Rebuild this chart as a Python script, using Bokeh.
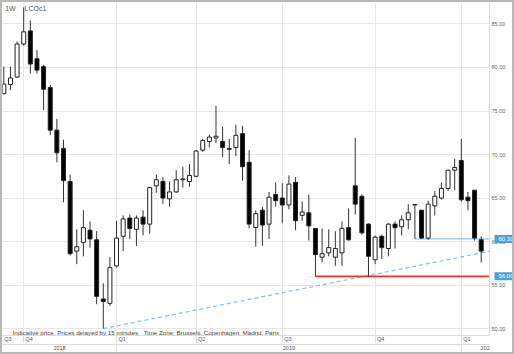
from bokeh.plotting import figure
from bokeh.models import (Range1d, LinearAxis, FixedTicker, Label, Grid, Span,
                          ColumnDataSource, InlineStyleSheet)
from bokeh.core.properties import value
from bokeh.embed import file_html
from bokeh.resources import INLINE

# Weekly OHLC, LCOc1 (Brent), mid-Sep 2018 .. end Jan 2020
opens = [77.0, 78.05, 78.9, 82.7, 84.2, 81.0, 80.1, 77.7, 72.8, 70.7,
         66.9, 58.9, 59.9, 61.3, 60.2, 53.4, 52.9, 57.2, 60.6, 62.7,
         61.4, 62.8, 62.0, 66.4, 66.9, 64.9, 65.7, 67.1, 66.9, 67.5,
         70.5, 71.5, 71.9, 71.5, 70.7, 70.8, 72.4, 69.1, 61.6, 63.6,
         62.0, 65.4, 65.0, 64.2, 66.8, 63.0, 63.3, 61.5, 58.2, 58.7,
         58.2, 58.7, 61.6, 66.4, 65.2, 62.0, 57.9, 60.6, 59.2, 62.0,
         61.7, 62.5, 64.2, 63.6, 60.4, 64.1, 65.0, 66.1, 68.2, 69.3,
         65.1, 65.9, 60.2]
highs = [80.1, 80.1, 83.0, 86.9, 85.4, 82.0, 80.3, 78.0, 74.1, 71.7,
         67.7, 61.4, 63.6, 62.3, 61.2, 55.2, 58.2, 62.4, 63.0, 63.1,
         63.0, 63.6, 66.3, 67.7, 67.4, 66.9, 68.2, 68.6, 68.9, 70.5,
         71.8, 72.3, 75.6, 73.2, 71.8, 73.4, 73.3, 70.5, 63.6, 64.0,
         65.7, 66.8, 66.7, 67.6, 67.4, 64.6, 65.4, 61.5, 61.5, 61.4,
         61.2, 62.3, 63.8, 71.9, 65.4, 62.1, 60.7, 60.8, 62.1, 62.3,
         63.0, 64.3, 64.25, 63.6, 64.7, 65.8, 66.8, 68.2, 69.5, 71.8,
         65.7, 65.9, 60.6]
lows = [76.9, 77.4, 78.8, 82.5, 79.3, 79.3, 75.1, 72.2, 69.1, 64.5,
        58.4, 57.4, 58.3, 59.3, 52.8, 50.0, 52.6, 57.0, 58.9, 60.3,
        59.5, 60.7, 60.9, 65.6, 64.3, 64.0, 65.6, 66.2, 66.3, 67.4,
        70.3, 70.8, 71.3, 69.7, 68.9, 69.8, 67.0, 61.5, 59.4, 59.5,
        60.3, 64.0, 62.1, 63.7, 61.3, 62.4, 60.1, 56.0, 57.6, 58.3,
        57.2, 57.2, 60.1, 63.1, 60.8, 56.0, 57.4, 58.0, 58.3, 59.2,
        60.7, 61.4, 60.3, 60.3, 60.2, 63.0, 64.8, 65.8, 65.9, 64.6,
        63.6, 60.1, 57.6]
closes = [78.1, 78.8, 82.7, 84.1, 80.4, 79.7, 77.5, 72.8, 70.2, 67.0,
          58.6, 59.4, 61.6, 60.3, 53.7, 53.1, 57.0, 60.4, 62.6, 61.5,
          62.7, 62.0, 66.2, 67.1, 65.0, 65.7, 67.1, 67.2, 67.6, 70.4,
          71.6, 72.0, 72.1, 70.8, 70.6, 72.2, 68.6, 62.0, 63.2, 61.9,
          65.1, 64.7, 64.2, 66.6, 62.4, 63.4, 61.8, 58.5, 58.6, 59.3,
          59.2, 61.5, 60.2, 64.3, 61.0, 58.3, 60.5, 59.3, 62.0, 61.6,
          62.5, 63.3, 64.25, 60.4, 64.3, 65.2, 66.1, 68.2, 68.5, 64.8,
          64.7, 60.4, 58.9]

# quarter boundaries (week index of first week in quarter)
quarter_starts = [3, 17, 29, 42, 56, 69]
quarter_names = ["Q3", "Q4", "Q1", "Q2", "Q3", "Q4", "Q1"]
year_starts = [17, 69]
year_names = ["2018", "2019", "202"]
y_ticks = [50, 55, 60, 65, 70, 75, 80, 85]
y_tick_labels = ["50.00", "55.00", "60.00", "65.00", "70.00", "75.00", "80.00", "85.00"]

support_level = 56.00
support_from = 47
resist_level = 60.30
resist_from = 62
trend_x = [15, 73.25]
trend_y = [50.0, 58.88]

X0, X1, XR = -0.2, 73.25, 76.72   # data start, price-scale edge, canvas edge
FONT = "Liberation Sans"
GRID = "#e6e6e6"

xs = list(range(len(opens)))
up = [c >= o for o, c in zip(opens, closes)]
src = ColumnDataSource(dict(
    x=xs, top=[max(o, c) for o, c in zip(opens, closes)],
    bottom=[min(o, c) for o, c in zip(opens, closes)],
    high=highs, low=lows,
    fill=["white" if u else "black" for u in up],
))

border_css = InlineStyleSheet(css="""
:host { position: relative; }
:host::after { content: ""; position: absolute; left: 0; top: 0; right: 0; bottom: 0;
  box-sizing: border-box; border: 2px solid #b8b8b8; pointer-events: none; z-index: 1000; }
""")

p = figure(width=514, height=354, output_backend="svg", toolbar_location=None,
           x_range=Range1d(X0, XR), y_range=Range1d(49.2, 87.47),
           x_axis_type=None, y_axis_type=None,
           min_border_left=2, min_border_top=2, min_border_right=2, min_border_bottom=19,
           stylesheets=[border_css])
p.outline_line_color = None
p.background_fill_color = "white"
p.border_fill_color = "white"

# grid
hgrid = Grid(dimension=1, ticker=FixedTicker(ticks=y_ticks), grid_line_color=GRID)
if "cross_bounds" in Grid.properties():
    hgrid.cross_bounds = (X0, X1)
    p.add_layout(hgrid)
else:
    p.segment(x0=[X0] * len(y_ticks), y0=y_ticks, x1=[X1] * len(y_ticks), y1=y_ticks,
              line_color=GRID, line_width=1)
p.add_layout(Grid(dimension=0, ticker=FixedTicker(ticks=quarter_starts), grid_line_color=GRID))
p.add_layout(Span(location=X1, dimension="height", line_color="#dcdcdc", line_width=1))

# quarter axis
bounds = [X0] + quarter_starts
q_pos = [b + 0.83 for b in bounds]
qa = LinearAxis(ticker=FixedTicker(ticks=q_pos, minor_ticks=quarter_starts),
                major_label_overrides={pp: n for pp, n in zip(q_pos, quarter_names)},
                bounds=(X0, X1))
qa.major_tick_line_color = None
qa.minor_tick_in = 0
qa.minor_tick_out = 7
qa.minor_tick_line_color = "#dcdcdc"
qa.axis_line_color = "#dcdcdc"
qa.major_label_standoff = -7
qa.major_label_text_font = FONT
qa.major_label_text_font_size = "5.5px"
qa.major_label_text_color = "#555555"
p.add_layout(qa, "below")

# year axis
y_pos = [(X0 + year_starts[0]) / 2, (year_starts[0] + year_starts[1]) / 2, 72.6]
yr = LinearAxis(ticker=FixedTicker(ticks=y_pos, minor_ticks=year_starts),
                major_label_overrides={pp: n for pp, n in zip(y_pos, year_names)},
                bounds=(X0, X1))
yr.major_tick_line_color = None
yr.minor_tick_in = 0
yr.minor_tick_out = 9
yr.minor_tick_line_color = "#dcdcdc"
yr.axis_line_color = "#dcdcdc"
yr.major_label_standoff = -8
yr.major_label_text_font = FONT
yr.major_label_text_font_size = "5.5px"
yr.major_label_text_color = "#555555"
p.add_layout(yr, "below")

# price scale labels (right)
p.text(x=[X1] * len(y_ticks), y=y_ticks, text=y_tick_labels, x_offset=2,
       text_font=value(FONT), text_font_size="5.5px", text_color="#666666",
       text_align="left", text_baseline="middle")

# trend & level lines
p.line(trend_x, trend_y, line_color="#86bfea", line_width=1.2, line_dash="4 3")
p.line([support_from, X1], [support_level, support_level], line_color="#ff2a2a", line_width=1.6)
p.line([resist_from, X1], [resist_level, resist_level], line_color="#8cc4ee", line_width=1.4)

# candles
p.segment(x0="x", y0="low", x1="x", y1="high", source=src, line_color="#333333", line_width=1)
p.vbar(x="x", width=0.6, top="top", bottom="bottom", source=src,
       fill_color="fill", line_color="#222222", line_width=1)

# level tags on price scale
p.text(x=[X1, X1], y=[resist_level, support_level],
       text=[f"{resist_level:.2f}", f"{support_level:.2f}"], x_offset=5,
       text_font=value(FONT), text_font_size="6px", text_color="white",
       text_align="left", text_baseline="middle",
       background_fill_color="#4a9fe3", padding=dict(left=4, right=4, top=2, bottom=2))

# header & footnote
p.add_layout(Label(x=0.2, y=87.2, text="1W", text_font=FONT, text_font_size="7px",
                   text_color="#555555", text_baseline="top"))
p.add_layout(Label(x=3.13, y=87.2, text="LCOc1", text_font=FONT, text_font_size="7px",
                   text_color="#555555", text_baseline="top"))
p.add_layout(Label(x=1.31, y=49.6, text="Indicative price. Prices delayed by 15 minutes",
                   text_font=FONT, text_font_size="6.2px", text_color="#444444",
                   text_baseline="middle"))
p.add_layout(Label(x=21.1, y=49.6, text="Time Zone: Brussels, Copenhagen, Madrid, Paris",
                   text_font=FONT, text_font_size="6.2px", text_color="#444444",
                   text_baseline="middle"))

open("out.html", "w").write(file_html(p, INLINE))
